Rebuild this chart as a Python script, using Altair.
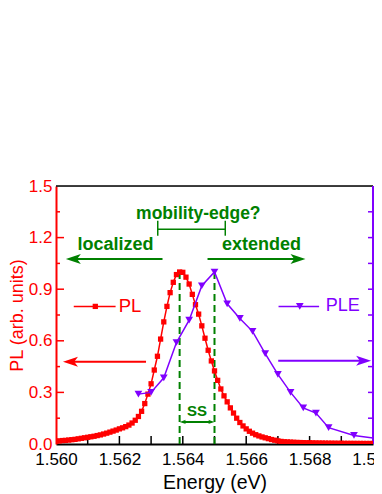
import altair as alt
import pandas as pd

FONT = "Liberation Sans"
RED = "#FF0000"
PURPLE = "#8000FF"
GREEN = "#008000"

# the page gives the svg at most 366 px of width: keep the plot inside it
W, H = 317, 258

# ---- PL spectrum (0.0001 eV grid starting at 1.5600) ----
PL_START = 1.5600
PL_STEP = 0.0001
PL_VALUES = [
    0.016, 0.018, 0.020, 0.021, 0.023, 0.025, 0.027, 0.030, 0.033, 0.036,
    0.039, 0.042, 0.045, 0.049, 0.053, 0.058, 0.063, 0.069, 0.075, 0.081,
    0.088, 0.094, 0.101, 0.110, 0.122, 0.138, 0.160, 0.190, 0.235, 0.290,
    0.350, 0.430, 0.510, 0.610, 0.710, 0.800, 0.880, 0.940, 0.985, 1.000,
    0.998, 0.970, 0.930, 0.870, 0.810, 0.755, 0.687, 0.615, 0.545, 0.483,
    0.425, 0.370, 0.320, 0.280, 0.245, 0.210, 0.180, 0.150, 0.125, 0.105,
    0.088, 0.074, 0.063, 0.054, 0.047, 0.041, 0.036, 0.031, 0.026, 0.022,
    0.018, 0.015, 0.013, 0.012, 0.011, 0.010, 0.009, 0.0085, 0.008, 0.0075,
    0.007, 0.0065, 0.006, 0.0057, 0.0054, 0.0051, 0.0048, 0.0046, 0.0044, 0.0042,
    0.004, 0.0038, 0.0036, 0.0035, 0.0034, 0.0033, 0.0032, 0.0031, 0.003, 0.003,
    0.003,
]
PL_ENERGY = [round(PL_START + i * PL_STEP, 4) for i in range(len(PL_VALUES))]

# ---- PLE spectrum ----
PLE_ENERGY = [1.5626, 1.5630, 1.5634, 1.5638, 1.5642, 1.5646, 1.5650, 1.5654,
              1.5658, 1.5662, 1.5666, 1.5670, 1.5674, 1.5678, 1.5682, 1.5686,
              1.5694, 1.5702]
PLE_VALUES = [0.29, 0.30, 0.385, 0.59, 0.72, 0.92, 1.00, 0.815,
              0.73, 0.655, 0.525, 0.405, 0.30, 0.21, 0.18, 0.095,
              0.05, 0.03]

# ---- axes ----
X_DOMAIN = [1.560, 1.570]
Y_DOMAIN = [0.0, 1.5]
X_LABELS = [1.560, 1.562, 1.564, 1.566, 1.568, 1.570]
X_TICKS = [1.561, 1.562, 1.563, 1.564, 1.565, 1.566, 1.567, 1.568, 1.569]
Y_LABELS = [0.0, 0.3, 0.6, 0.9, 1.2, 1.5]
Y_MAJOR_TICKS = [0.3, 0.6, 0.9, 1.2]
Y_MINOR_TICKS = [0.15, 0.45, 0.75, 1.05, 1.35]
Y_RIGHT_TICKS = [0.15, 0.3, 0.45, 0.6, 0.75, 0.9, 1.05, 1.2, 1.35]

# ---- annotations ----
PEAK_LINES_X = [1.5639, 1.5650]
PEAK_LINES_TOP = [1.0, 1.0]
SS_Y = 0.128
SS_TEXT_Y = 0.19
BIG_ARROWS = [  # start, tip, y, color
    (1.56336, 1.56031, 1.076, GREEN),
    (1.56478, 1.56787, 1.076, GREEN),
    (1.56284, 1.56022, 0.478, RED),
    (1.56701, 1.56994, 0.484, PURPLE),
]
BRACKET_X = [1.56321, 1.56534]
BRACKET_Y = 1.248
BRACKET_TICK = [1.211, 1.298]
TEXTS = [  # text, x, y, color, size, bold, align
    ("mobility-edge?", 1.56449, 1.34, GREEN, 17.5, True, "center"),
    ("localized", 1.56188, 1.158, GREEN, 18, True, "center"),
    ("extended", 1.56648, 1.158, GREEN, 18, True, "center"),
    ("SS", 1.56445, SS_TEXT_Y, GREEN, 15, True, "center"),
    ("PL", 1.56198, 0.80, RED, 18.5, False, "left"),
    ("PLE", 1.56851, 0.80, PURPLE, 18, False, "left"),
]
LEG_PL_LINE = [1.56056, 1.56188]
LEG_PL_MARK = 1.56124
LEG_PLE_LINE = [1.56702, 1.56830]
LEG_PLE_MARK = 1.56769
LEG_Y = 0.80

xs = alt.Scale(domain=X_DOMAIN, nice=False, zero=False)
ys = alt.Scale(domain=Y_DOMAIN, nice=False, zero=True)

X_AXIS = alt.Axis(values=X_LABELS, format=".3f", ticks=False, grid=False,
                  domainColor="black", domainWidth=2, labelColor="black",
                  labelFontSize=17, labelFont=FONT, labelPadding=7,
                  title="Energy (eV)", titleFont=FONT, titleFontSize=19.5,
                  titleFontWeight="normal", titleColor="black", titlePadding=6,
                  labelOverlap=False, labelFlush=False, labelBound=False)
Y_AXIS = alt.Axis(values=Y_LABELS, format=".1f", ticks=False, grid=False,
                  domainColor=RED, domainWidth=2, labelColor=RED,
                  labelFontSize=17, labelFont=FONT, labelPadding=4,
                  title="PL (arb. units)", titleFont=FONT, titleFontSize=18,
                  titleFontWeight="normal", titleColor=RED, titlePadding=2,
                  labelOverlap=False, labelFlush=False)


def X(f="x"):
    return alt.X(f, type="quantitative", scale=xs, axis=X_AXIS)


def Y(f="y"):
    return alt.Y(f, type="quantitative", scale=ys, axis=Y_AXIS)


RIGHT_HEAD = "M0,0 L-2,-0.67 L-1.5,0 L-2,0.67 Z"
LEFT_HEAD = "M0,0 L2,-0.67 L1.5,0 L2,0.67 Z"

pl_df = pd.DataFrame({"x": PL_ENERGY, "y": PL_VALUES})
ple_df = pd.DataFrame({"x": PLE_ENERGY, "y": PLE_VALUES})

axes_layer = alt.Chart(pd.DataFrame({"x": X_DOMAIN, "y": Y_DOMAIN})).mark_point(opacity=0).encode(
    x=X(), y=Y())

# frame: top and right
top_line = alt.Chart(pd.DataFrame({"a": [0]})).mark_rule(color="black", strokeWidth=1.5).encode(
    x=alt.value(0), x2=alt.value(W), y=alt.value(0))
right_line = alt.Chart(pd.DataFrame({"a": [0]})).mark_rule(color=PURPLE, strokeWidth=2).encode(
    x=alt.value(W), y=alt.value(0), y2=alt.value(H))

# inward ticks
xt = alt.Chart(pd.DataFrame({"x": X_TICKS})).mark_rule(color="black", strokeWidth=1.5).encode(
    x=X(), y=alt.value(H - 8), y2=alt.value(H))
ytm = alt.Chart(pd.DataFrame({"y": Y_MAJOR_TICKS})).mark_rule(color=RED, strokeWidth=1.5).encode(
    y=Y(), x=alt.value(0), x2=alt.value(8))
ytn = alt.Chart(pd.DataFrame({"y": Y_MINOR_TICKS})).mark_rule(color=RED, strokeWidth=1.5).encode(
    y=Y(), x=alt.value(0), x2=alt.value(4))
yrt = alt.Chart(pd.DataFrame({"y": Y_RIGHT_TICKS})).mark_rule(color=PURPLE, strokeWidth=1.5).encode(
    y=Y(), x=alt.value(W - 5), x2=alt.value(W))

# data
pl_line = alt.Chart(pl_df).mark_line(color=RED, strokeWidth=1.5, clip=True).encode(x=X(), y=Y())
pl_pts = alt.Chart(pl_df).mark_point(shape="square", filled=True, color=RED, size=28, opacity=1,
                                     clip=True).encode(x=X(), y=Y())
ple_line = alt.Chart(ple_df).mark_line(color=PURPLE, strokeWidth=1.5, clip=True).encode(x=X(), y=Y())
ple_pts = alt.Chart(ple_df).mark_point(shape="triangle-down", filled=True, color=PURPLE, size=60,
                                       opacity=1, clip=True).encode(x=X(), y=Y())

# dashed peak lines
dash_df = pd.DataFrame({"x": PEAK_LINES_X, "y": [0, 0], "y2": PEAK_LINES_TOP})
dash = alt.Chart(dash_df).mark_rule(color=GREEN, strokeWidth=2, strokeDash=[7, 4]).encode(
    x=X(), y=Y(), y2="y2")

# SS double arrow
ss_line_df = pd.DataFrame({"x": [PEAK_LINES_X[0] + 0.0001], "x2": [PEAK_LINES_X[1] - 0.0001], "y": [SS_Y]})
ss_line = alt.Chart(ss_line_df).mark_rule(color=GREEN, strokeWidth=2).encode(x=X(), x2="x2", y=Y())
ss_l = alt.Chart(pd.DataFrame({"x": [PEAK_LINES_X[0]], "y": [SS_Y]})).mark_point(
    shape=LEFT_HEAD, filled=True, color=GREEN, size=40, opacity=1).encode(x=X(), y=Y())
ss_r = alt.Chart(pd.DataFrame({"x": [PEAK_LINES_X[1]], "y": [SS_Y]})).mark_point(
    shape=RIGHT_HEAD, filled=True, color=GREEN, size=40, opacity=1).encode(x=X(), y=Y())

# big arrows
arrow_layers = []
for start, tip, yv, col in BIG_ARROWS:
    d = 1 if tip > start else -1
    line_df = pd.DataFrame({"x": [start], "x2": [tip - d * 0.0002], "y": [yv]})
    arrow_layers.append(alt.Chart(line_df).mark_rule(color=col, strokeWidth=2).encode(
        x=X(), x2="x2", y=Y()))
    arrow_layers.append(alt.Chart(pd.DataFrame({"x": [tip], "y": [yv]})).mark_point(
        shape=RIGHT_HEAD if d > 0 else LEFT_HEAD, filled=True, color=col, size=225,
        opacity=1).encode(x=X(), y=Y()))

# mobility-edge bracket
br_h = alt.Chart(pd.DataFrame({"x": [BRACKET_X[0]], "x2": [BRACKET_X[1]], "y": [BRACKET_Y]})).mark_rule(
    color=GREEN, strokeWidth=1.5).encode(x=X(), x2="x2", y=Y())
br_v = alt.Chart(pd.DataFrame({"x": BRACKET_X, "y": [BRACKET_TICK[0]] * 2,
                               "y2": [BRACKET_TICK[1]] * 2})).mark_rule(
    color=GREEN, strokeWidth=1.5).encode(x=X(), y=Y(), y2="y2")

# legend samples
leg_pl_line = alt.Chart(pd.DataFrame({"x": [LEG_PL_LINE[0]], "x2": [LEG_PL_LINE[1]], "y": [LEG_Y]})).mark_rule(
    color=RED, strokeWidth=1.5).encode(x=X(), x2="x2", y=Y())
leg_pl_pt = alt.Chart(pd.DataFrame({"x": [LEG_PL_MARK], "y": [LEG_Y]})).mark_point(
    shape="square", filled=True, color=RED, size=28, opacity=1).encode(x=X(), y=Y())
leg_ple_line = alt.Chart(pd.DataFrame({"x": [LEG_PLE_LINE[0]], "x2": [LEG_PLE_LINE[1]], "y": [LEG_Y]})).mark_rule(
    color=PURPLE, strokeWidth=1.5).encode(x=X(), x2="x2", y=Y())
leg_ple_pt = alt.Chart(pd.DataFrame({"x": [LEG_PLE_MARK], "y": [LEG_Y]})).mark_point(
    shape="triangle-down", filled=True, color=PURPLE, size=60, opacity=1).encode(x=X(), y=Y())

# texts
text_layers = []
for t, xv, yv, col, sz, bold, al in TEXTS:
    text_layers.append(alt.Chart(pd.DataFrame({"x": [xv], "y": [yv], "t": [t]})).mark_text(
        color=col, fontSize=sz, font=FONT, fontWeight="bold" if bold else "normal",
        align=al, baseline="middle").encode(x=X(), y=Y(), text="t:N"))

chart = alt.layer(
    axes_layer, top_line, right_line, xt, ytm, ytn, yrt,
    dash, ss_line, ss_l, ss_r, br_h, br_v,
    *arrow_layers,
    pl_line, pl_pts, ple_line, ple_pts,
    leg_pl_line, leg_pl_pt, leg_ple_line, leg_ple_pt,
    *text_layers,
).properties(
    width=W, height=H,
    autosize=alt.AutoSizeParams(type="none"),
    padding={"left": 48, "top": 178, "right": 1, "bottom": 50},
).configure_view(stroke=None).configure(background="white")

chart.save("out.html", embed_options={"renderer": "svg", "actions": False})
